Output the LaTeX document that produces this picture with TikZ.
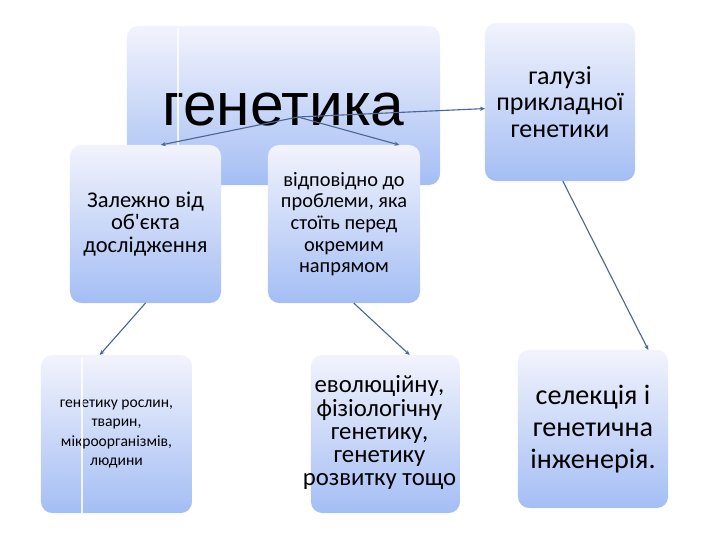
\documentclass[tikz,border=0pt]{standalone}
\usepackage{fontspec}
\setmainfont{Carlito}[Ligatures=TeXOff]
\newfontfamily\titlefont{Liberation Sans}
\usetikzlibrary{arrows.meta}
\definecolor{boxtop}{HTML}{F2F3FC}
\definecolor{boxbot}{HTML}{A4BEF4}
\definecolor{linkcol}{HTML}{4A6796}
\begin{document}
\begin{tikzpicture}[x=0.025cm,y=-0.025cm,inner sep=0pt,outer sep=0pt,
box/.style={rectangle,rounded corners=8pt,top color=boxtop,bottom color=boxbot,
  minimum width=3.775cm,minimum height=3.95cm,align=center},
link/.style={draw=linkcol,thick,-{Stealth[length=3.5pt,width=3pt]}}]
\useasboundingbox[fill=white] (0,0) rectangle (720,540);
\draw (283.5,105.5) node[box,minimum width=7.825cm,minimum height=3.975cm,
  text depth=0pt,font=\titlefont\fontsize{43}{43}\selectfont] (gen) {\raisebox{-6pt}{генетика}};
\draw[white,line width=1pt,opacity=.8] (178,28) -- (178,145);
\draw (145.5,224) node[box,font=\fontsize{16}{16}\selectfont] (obj)
  {Залежно від\\об'єкта\\дослідження};
\draw (344,224) node[box,minimum width=3.8cm,font=\fontsize{14.5}{15.4}\selectfont] (prob)
  {відповідно до\\проблеми, яка\\стоїть перед\\окремим\\напрямом};
\draw (560,102) node[box,minimum width=3.75cm,font=\fontsize{18.5}{18.8}\selectfont] (appl)
  {галузі\\прикладної\\генетики};
\draw (116.5,434) node[box,font=\fontsize{11.1}{13.8}\selectfont] (orgs)
  {генетику рослин,\\тварин,\\мікроорганізмів,\\людини};
\draw[white,line width=1pt,opacity=.8] (82,357) -- (82,513);
\draw (385.5,434) node[box,minimum width=3.725cm,font=\fontsize{17.6}{16.3}\selectfont] (evol)
  {\makebox[3.4cm]{\hspace*{-0.3cm}\begin{tabular}{@{}c@{}}еволюційну,\\фізіологічну\\генетику,\\генетику\\розвитку тощо\end{tabular}}};
\draw (593,429) node[box,minimum width=3.75cm,font=\fontsize{20}{22.7}\selectfont] (sel)
  {селекція і\\генетична\\інженерія.};
% links
\coordinate (hub) at (298,117);
\draw[link] (hub) -- (obj.79);
\draw[link] (hub) -- (prob.55);
\draw[link] (hub) -- (appl.185);
\draw[link] (obj.south) -- (orgs.102);
\draw[link] (prob.-83) -- (evol.73);
\draw[link] (appl.-88) -- (sel.55);
\end{tikzpicture}
\end{document}
